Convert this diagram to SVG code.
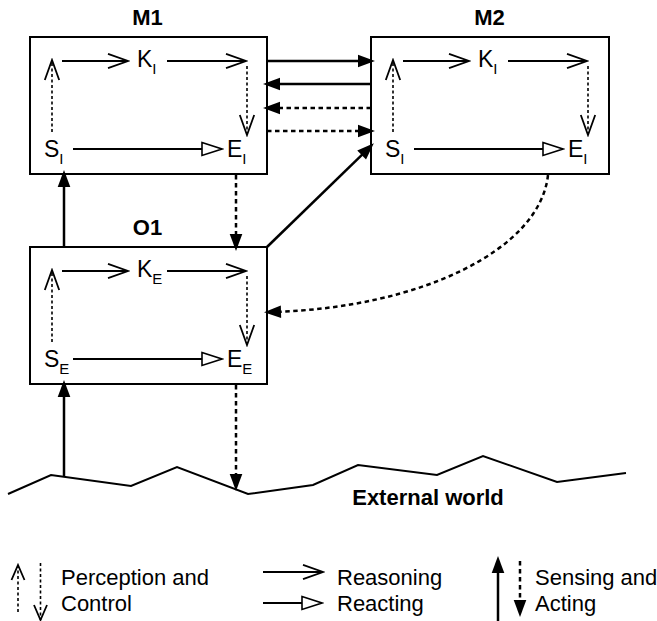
<svg xmlns="http://www.w3.org/2000/svg" width="657" height="621" viewBox="0 0 657 621">
  <style>
    text { font-family: "Liberation Sans", Arial, sans-serif; fill: #000; }
    .title { font-size: 22px; font-weight: bold; text-anchor: middle; }
    .lbl { font-size: 23px; }
    .sub { font-size: 15px; }
    .leg { font-size: 22px; }
    .box { fill: #fff; stroke: #000; stroke-width: 2; }
    .reason { fill: none; stroke: #000; stroke-width: 1.8; marker-end: url(#chev); }
    .react { fill: none; stroke: #000; stroke-width: 1.8; marker-end: url(#tri); }
    .percept { fill: none; stroke: #000; stroke-width: 1.6; stroke-dasharray: 3 2.5; marker-end: url(#chev); }
    .percept-s { fill: none; stroke: #000; stroke-width: 1.6; stroke-dasharray: 3 2.5; marker-end: url(#chevS); }
    .sense { fill: none; stroke: #000; stroke-width: 2.5; marker-end: url(#head); }
    .act { fill: none; stroke: #000; stroke-width: 2.5; stroke-dasharray: 4.5 3.5; marker-end: url(#head); }
    .ground { fill: none; stroke: #000; stroke-width: 2; stroke-linejoin: miter; }
  </style>
  <defs>
    <!-- open chevron head -->
    <marker id="chev" markerUnits="userSpaceOnUse" viewBox="-24 -10 26 20" markerWidth="26" markerHeight="20" refX="0" refY="0" orient="auto">
      <path d="M-20,-7.2 L0,0 L-20,7.2" fill="none" stroke="#000" stroke-width="1.8"/>
    </marker>
    <!-- smaller open chevron for the key -->
    <marker id="chevS" markerUnits="userSpaceOnUse" viewBox="-24 -10 26 20" markerWidth="26" markerHeight="20" refX="0" refY="0" orient="auto">
      <path d="M-15,-6.5 L0,0 L-15,6.5" fill="none" stroke="#000" stroke-width="1.8"/>
    </marker>
    <!-- open triangle head -->
    <marker id="tri" markerUnits="userSpaceOnUse" viewBox="-24 -10 26 20" markerWidth="26" markerHeight="20" refX="0" refY="0" orient="auto">
      <path d="M-20,-6.5 L0,0 L-20,6.5 Z" fill="#fff" stroke="#000" stroke-width="1.6"/>
    </marker>
    <!-- filled head, tip 4px beyond the line end -->
    <marker id="head" markerUnits="userSpaceOnUse" viewBox="-20 -10 26 20" markerWidth="26" markerHeight="20" refX="-4" refY="0" orient="auto">
      <path d="M-13,-6.3 L4,0 L-13,6.3 Z" fill="#000"/>
    </marker>
  </defs>

  <!-- ground line of the external world -->
  <g id="world">
    <polyline class="ground" points="8,494 51,475 131,486 177,467 248,494 313,485 358,465 437,475 483,456 557,482 626,473"/>
    <text class="title" x="428" y="505">External world</text>
  </g>

  <!-- meta level 1 -->
  <g id="M1">
    <text class="title" x="147.5" y="25">M1</text>
    <rect class="box" x="30" y="37" width="237" height="137"/>
    <line class="reason" x1="62" y1="61" x2="128" y2="61"/>
    <text class="lbl" x="137" y="67">K<tspan class="sub" dy="7">I</tspan></text>
    <line class="reason" x1="167" y1="61" x2="246" y2="61"/>
    <line class="percept" x1="247" y1="66" x2="247" y2="135"/>
    <line class="percept" x1="52" y1="132" x2="52" y2="60"/>
    <text class="lbl" x="44" y="157">S<tspan class="sub" dy="7">I</tspan></text>
    <line class="react" x1="73" y1="149" x2="222" y2="149"/>
    <text class="lbl" x="227" y="157">E<tspan class="sub" dy="7">I</tspan></text>
  </g>

  <!-- meta level 2 -->
  <g id="M2">
    <text class="title" x="489.5" y="25">M2</text>
    <rect class="box" x="371" y="37" width="238" height="137"/>
    <line class="reason" x1="403" y1="61" x2="469" y2="61"/>
    <text class="lbl" x="478" y="67">K<tspan class="sub" dy="7">I</tspan></text>
    <line class="reason" x1="508" y1="61" x2="587" y2="61"/>
    <line class="percept" x1="588" y1="66" x2="588" y2="135"/>
    <line class="percept" x1="393" y1="132" x2="393" y2="60"/>
    <text class="lbl" x="385" y="157">S<tspan class="sub" dy="7">I</tspan></text>
    <line class="react" x1="414" y1="149" x2="563" y2="149"/>
    <text class="lbl" x="568" y="157">E<tspan class="sub" dy="7">I</tspan></text>
  </g>

  <!-- object level -->
  <g id="O1">
    <text class="title" x="147.5" y="235">O1</text>
    <rect class="box" x="30" y="247" width="237" height="137"/>
    <line class="reason" x1="62" y1="271" x2="128" y2="271"/>
    <text class="lbl" x="137" y="277">K<tspan class="sub" dy="7">E</tspan></text>
    <line class="reason" x1="167" y1="271" x2="246" y2="271"/>
    <line class="percept" x1="247" y1="276" x2="247" y2="345"/>
    <line class="percept" x1="52" y1="342" x2="52" y2="270"/>
    <text class="lbl" x="44" y="367">S<tspan class="sub" dy="7">E</tspan></text>
    <line class="react" x1="73" y1="359" x2="222" y2="359"/>
    <text class="lbl" x="227" y="367">E<tspan class="sub" dy="7">E</tspan></text>
  </g>

  <!-- sensing (solid) and acting (dotted) links -->
  <g id="connectors">
    <line class="sense" x1="267" y1="61" x2="367" y2="61"/>
    <line class="sense" x1="371" y1="84" x2="271" y2="84"/>
    <line class="act" x1="371" y1="108" x2="271" y2="108"/>
    <line class="act" x1="267" y1="131" x2="367" y2="131"/>
    <line class="sense" x1="267" y1="247" x2="368.1" y2="148.8"/>
    <line class="act" x1="236" y1="175" x2="236" y2="243"/>
    <line class="sense" x1="64" y1="247" x2="64" y2="178"/>
    <path class="act" d="M548,175 C540,250 420,308 272,312"/>
    <line class="sense" x1="64" y1="476" x2="64" y2="388"/>
    <line class="act" x1="236" y1="385" x2="236" y2="483"/>
  </g>

  <!-- key -->
  <g id="legend">
    <line class="percept-s" x1="18" y1="612" x2="18" y2="565"/>
    <line class="percept-s" x1="40.5" y1="563" x2="40.5" y2="620"/>
    <text class="leg" x="61" y="585">Perception and</text>
    <text class="leg" x="61" y="611">Control</text>
    <line class="reason" x1="263" y1="572" x2="323" y2="572"/>
    <line class="react" x1="263" y1="603" x2="322" y2="603"/>
    <text class="leg" x="337" y="585">Reasoning</text>
    <text class="leg" x="337" y="611">Reacting</text>
    <line class="sense" x1="498" y1="622" x2="498" y2="564"/>
    <line class="act" x1="520" y1="561" x2="520" y2="609"/>
    <text class="leg" x="535" y="585">Sensing and</text>
    <text class="leg" x="535" y="611">Acting</text>
  </g>
</svg>
